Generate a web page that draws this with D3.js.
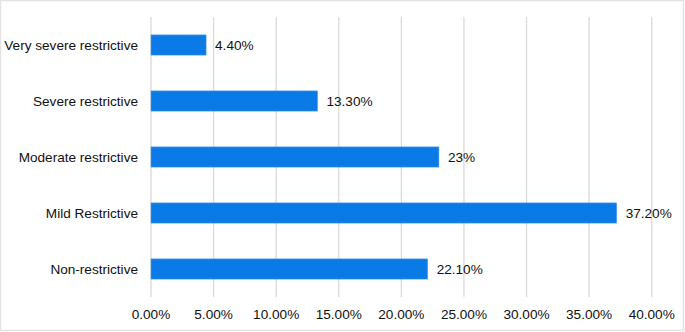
<!DOCTYPE html>
<html lang="en">
<head>
    <meta charset="UTF-8">
    <title>Restrictive bar chart</title>
    <script src="https://d3js.org/d3.v7.min.js"></script>
    <style>
        body { margin: 0; background: #fff; }
        text { font-family: "Liberation Sans", Arial, sans-serif; fill: #111; }
    </style>
</head>
<body>
    <svg></svg>

    <script>
        const w = 685;
        const h = 332;

        const categories = ["Very severe restrictive", "Severe restrictive", "Moderate restrictive", "Mild Restrictive", "Non-restrictive"];
        const values = [4.4, 13.3, 23, 37.2, 22.1];
        const valueLabels = ["4.40%", "13.30%", "23%", "37.20%", "22.10%"];
        const ticks = [0, 5, 10, 15, 20, 25, 30, 35, 40];

        const svg = d3.select("svg").attr("width", w).attr("height", h);

        // outer frame
        svg.append("rect")
            .attr("x", 0.5).attr("y", 0.5)
            .attr("width", w - 2).attr("height", h - 2)
            .attr("fill", "none")
            .attr("stroke", "#e3e3e3")
            .attr("stroke-width", 1.5);

        const x = d3.scaleLinear().domain([0, 40]).range([151, 651.7]);
        const y = d3.scaleBand().domain(categories).range([17, 297]).paddingInner(0.64).paddingOuter(0.32);

        // grid
        svg.append("g")
            .selectAll("line")
            .data(ticks)
            .join("line")
                .attr("x1", d => x(d)).attr("x2", d => x(d))
                .attr("y1", 17).attr("y2", 297)
                .attr("stroke", "#d9d9d9")
                .attr("stroke-width", 1.3);

        // x tick labels
        svg.append("g")
            .selectAll("text")
            .data(ticks)
            .join("text")
                .attr("x", d => x(d))
                .attr("y", 319)
                .attr("text-anchor", "middle")
                .attr("font-size", 13.6)
                .text(d => d.toFixed(2) + "%");

        // bars
        svg.append("g")
            .selectAll("rect")
            .data(values)
            .join("rect")
                .attr("x", x(0))
                .attr("y", (d, i) => y(categories[i]))
                .attr("width", d => x(d) - x(0))
                .attr("height", y.bandwidth())
                .attr("fill", "#0a7ae6")
                .attr("stroke", "#4a9bec")
                .attr("stroke-width", 0.6);

        // category labels
        svg.append("g")
            .selectAll("text")
            .data(categories)
            .join("text")
                .attr("x", 138)
                .attr("y", d => y(d) + y.bandwidth() / 2)
                .attr("dy", "0.35em")
                .attr("text-anchor", "end")
                .attr("font-size", 13.6)
                .text(d => d);

        // value labels
        svg.append("g")
            .selectAll("text")
            .data(values)
            .join("text")
                .attr("x", d => x(d) + 9)
                .attr("y", (d, i) => y(categories[i]) + y.bandwidth() / 2)
                .attr("dy", "0.35em")
                .attr("font-size", 13.6)
                .text((d, i) => valueLabels[i]);
    </script>
</body>
</html>
